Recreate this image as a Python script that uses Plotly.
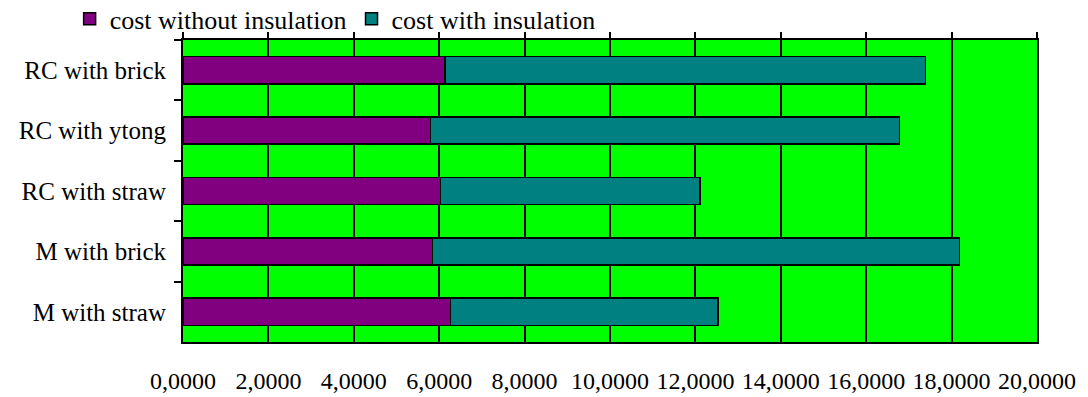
import plotly.graph_objects as go

# Building variants, listed top to bottom
categories = ["RC with brick", "RC with ytong", "RC with straw", "M with brick", "M with straw"]
cost_without_insulation = [6.13, 5.80, 6.03, 5.84, 6.27]
cost_with_insulation = [11.26, 10.98, 6.08, 12.35, 6.26]
x_ticks = [0, 2, 4, 6, 8, 10, 12, 14, 16, 18, 20]
x_tick_labels = ["0,0000", "2,0000", "4,0000", "6,0000", "8,0000", "10,0000",
                 "12,0000", "14,0000", "16,0000", "18,0000", "20,0000"]

SERIF = "Liberation Serif"

fig = go.Figure()
fig.add_trace(go.Bar(
    y=categories, x=cost_without_insulation, orientation="h",
    name="cost without insulation",
    marker=dict(color="#800080", line=dict(color="black", width=1.5)),
))
fig.add_trace(go.Bar(
    y=categories, x=cost_with_insulation, orientation="h",
    name="cost with insulation",
    marker=dict(color="#008080", line=dict(color="black", width=1.5)),
))
# empty trace on the top axis, only to carry the upper tick marks
fig.add_trace(go.Scatter(x=[None], y=[None], xaxis="x2", showlegend=False, hoverinfo="skip"))

fig.update_layout(
    width=1088, height=397,
    margin=dict(l=183, r=51, t=40, b=55, autoexpand=False),
    barmode="stack", bargap=0.55,
    paper_bgcolor="white", plot_bgcolor="#00FF00",
    font=dict(family=SERIF, size=24, color="black"),
    legend=dict(
        orientation="h", xref="container", yref="paper",
        x=0.064, y=1.07, xanchor="left", yanchor="middle",
        font=dict(family=SERIF, size=26, color="black"),
        bgcolor="rgba(0,0,0,0)", traceorder="normal",
    ),
    xaxis=dict(
        range=[0, 20], tickvals=x_ticks, ticktext=x_tick_labels,
        showgrid=True, gridcolor="black", gridwidth=2,
        ticks="", ticklabelstandoff=16,
        showline=True, linecolor="black", linewidth=2, mirror=True,
        zeroline=False, tickfont=dict(family=SERIF, size=24),
    ),
    xaxis2=dict(
        range=[0, 20], tickvals=x_ticks, overlaying="x", side="top",
        showticklabels=False, showgrid=False, zeroline=False,
        ticks="outside", ticklen=7, tickwidth=2, tickcolor="black",
    ),
    yaxis=dict(
        categoryorder="array", categoryarray=categories, autorange="reversed",
        tickson="boundaries", ticks="outside", ticklen=7, tickwidth=2, tickcolor="black",
        ticklabelstandoff=10,
        showgrid=False, zeroline=False,
        showline=True, linecolor="black", linewidth=2, mirror=True,
        tickfont=dict(family=SERIF, size=25),
    ),
)

fig.write_html("out.html")
